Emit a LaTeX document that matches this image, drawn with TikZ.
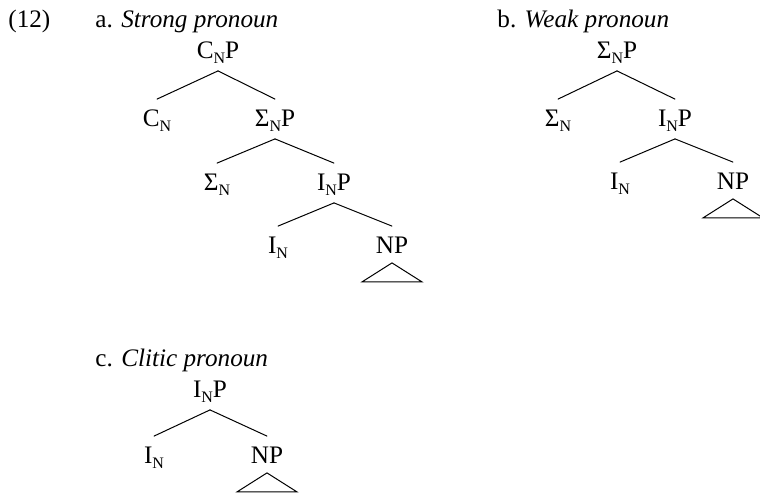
\documentclass[tikz,border=0pt]{standalone}
\usepackage{fontspec}
\setmainfont{Liberation Serif}
\usepackage{tikz}
\newcommand{\Nsub}{\raisebox{-0.45ex}{\fontsize{8}{9}\selectfont N}}

\begin{document}
\begin{tikzpicture}
		[x=0.5pt,y=-0.5pt,line cap=round,
		%Styles
		cat/.style={inner xsep=1pt,inner ysep=4.5pt,text height=9pt,text depth=1.5pt,font=\fontsize{12.6}{14}\selectfont},
		heading/.style={anchor=base west,inner sep=0pt,font=\fontsize{12.6}{14}\selectfont},
		branch/.style={line width=0.5pt},
		np triangle/.style={line width=0.5pt,line join=miter}
		]
		
		\useasboundingbox (0,0) rectangle (760,494);
		
		%Headings
		\node[heading] (exnum) at (8,27) {(12)};
		\node[heading] (heada) at (95,27) {a. \textit{Strong pronoun}};
		\node[heading] (headb) at (497,27) {b. \textit{Weak pronoun}};
		\node[heading] (headc) at (95,366) {c. \textit{Clitic pronoun}};
		
		%Tree a
		\node[cat] (aCNP) at (218,51) {C\Nsub P};
		\node[cat] (aCN) at (157,119) {C\Nsub};
		\node[cat] (aSNP) at (275,119) {Σ\Nsub P};
		\node[cat] (aSN) at (217,183) {Σ\Nsub};
		\node[cat] (aINP) at (334,183) {I\Nsub P};
		\node[cat] (aIN) at (278,246) {I\Nsub};
		\node[cat] (aNP) at (392,246) {NP};
		\coordinate (aNPtop) at ([yshift=1.5pt]aNP.south);
		
		\draw[branch] (aCNP.south) -- (aCN.north);
		\draw[branch] (aCNP.south) -- (aSNP.north);
		\draw[branch] (aSNP.south) -- (aSN.north);
		\draw[branch] (aSNP.south) -- (aINP.north);
		\draw[branch] (aINP.south) -- (aIN.north);
		\draw[branch] (aINP.south) -- (aNP.north);
		\draw[np triangle] (aNPtop) -- ++(-30,19) -- ++(60,0) -- cycle;
		
		%Tree b
		\node[cat] (bSNP) at (617,51) {Σ\Nsub P};
		\node[cat] (bSN) at (558,119) {Σ\Nsub};
		\node[cat] (bINP) at (675,119) {I\Nsub P};
		\node[cat] (bIN) at (620,182) {I\Nsub};
		\node[cat] (bNP) at (733,182) {NP};
		\coordinate (bNPtop) at ([yshift=1.5pt]bNP.south);
		
		\draw[branch] (bSNP.south) -- (bSN.north);
		\draw[branch] (bSNP.south) -- (bINP.north);
		\draw[branch] (bINP.south) -- (bIN.north);
		\draw[branch] (bINP.south) -- (bNP.north);
		\draw[np triangle] (bNPtop) -- ++(-30,19) -- ++(60,0) -- cycle;
		
		%Tree c
		\node[cat] (cINP) at (210,390) {I\Nsub P};
		\node[cat] (cIN) at (154,456) {I\Nsub};
		\node[cat] (cNP) at (267,456) {NP};
		\coordinate (cNPtop) at ([yshift=1.5pt]cNP.south);
		
		\draw[branch] (cINP.south) -- (cIN.north);
		\draw[branch] (cINP.south) -- (cNP.north);
		\draw[np triangle] (cNPtop) -- ++(-30,19) -- ++(60,0) -- cycle;
	\end{tikzpicture}
\end{document}
